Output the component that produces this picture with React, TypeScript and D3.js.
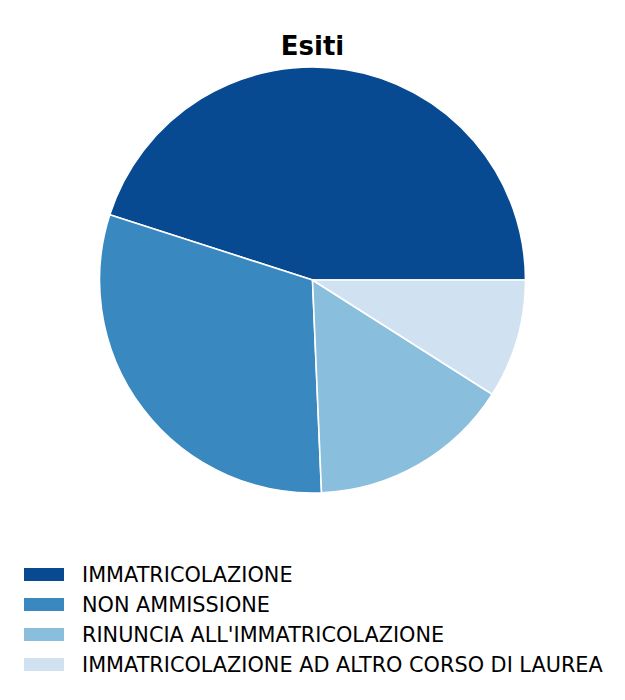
import React from 'react';
import * as d3 from 'd3';

const categories = [
  'IMMATRICOLAZIONE',
  'NON AMMISSIONE',
  "RINUNCIA ALL'IMMATRICOLAZIONE",
  'IMMATRICOLAZIONE AD ALTRO CORSO DI LAUREA',
];
const values = [50, 34, 17, 10];
const colors = ['#084a91', '#3a88c0', '#89bedc', '#d0e1f2'];

const width = 625;
const height = 700;
const cx = 312.5;
const cy = 280;
const radius = 213;

const App: React.FC = () => {
  const data = categories.map((c, i) => ({ name: c, value: values[i], color: colors[i] }));

  // matplotlib-style: start at 3 o'clock, counterclockwise
  const pie = d3
    .pie<{ name: string; value: number; color: string }>()
    .value(d => d.value)
    .sort(null)
    .startAngle(Math.PI / 2)
    .endAngle(Math.PI / 2 - 2 * Math.PI);

  const arc = d3
    .arc<d3.PieArcDatum<{ name: string; value: number; color: string }>>()
    .innerRadius(0)
    .outerRadius(radius);

  const arcs = pie(data);

  return (
    <svg
      width={width}
      height={height}
      style={{ position: 'absolute', left: 0, top: 0, background: '#fff' }}
      fontFamily="DejaVu Sans, sans-serif"
    >
      <text x={cx} y={55} textAnchor="middle" fontSize={26} fontWeight="bold" fill="#000">
        Esiti
      </text>
      <g transform={`translate(${cx},${cy})`}>
        {arcs.map((a, i) => (
          <path key={i} d={arc(a) || ''} fill={a.data.color} stroke="#fff" strokeWidth={1.6} strokeLinejoin="round" />
        ))}
      </g>
      <g>
        {data.map((d, i) => (
          <g key={d.name} transform={`translate(24,${574 + i * 30})`}>
            <rect x={0} y={-6} width={40} height={13} fill={d.color} />
            <text x={58} y={7.5} fontSize={20.8} fill="#000">
              {d.name}
            </text>
          </g>
        ))}
      </g>
    </svg>
  );
};

export default App;
